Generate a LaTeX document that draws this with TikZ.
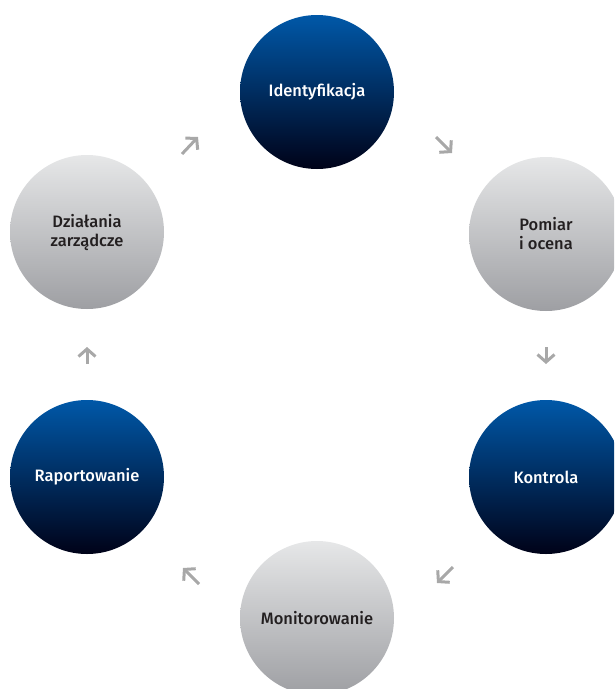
\documentclass[tikz,border=0pt]{standalone}
\usepackage{fontspec}
\setmainfont{Fira Sans}[BoldFont={Fira Sans Medium}]
\usepackage{tikz}
\usetikzlibrary{arrows.meta}

\definecolor{bluetop}{RGB}{0,88,168}
\definecolor{bluebot}{RGB}{0,2,24}
\definecolor{greytop}{RGB}{230,231,232}
\definecolor{greybot}{RGB}{158,159,163}
\definecolor{textgrey}{RGB}{35,31,32}
\definecolor{arrowgrey}{RGB}{168,168,168}

\tikzset{
	stage/.style={circle, minimum size=154pt, inner sep=0pt, align=center,
		font=\fontsize{16.5}{19}\selectfont\bfseries},
	bluestage/.style={stage, top color=bluetop, bottom color=bluebot, text=white},
	greystage/.style={stage, top color=greytop, bottom color=greybot, text=textgrey},
	flow/.style={draw=arrowgrey, line width=3pt,
		-{Straight Barb[length=7.5pt, width=17pt]}}
}

\begin{document}
\begin{tikzpicture}[x=1pt,y=-1pt]
			\useasboundingbox (0,0) rectangle (614,689);
			\clip (0,0) rectangle (614,689);
			\node[bluestage] (ident) at (317,92) {Identyfikacja};
			\node[greystage] (pomiar) at (546,234) {Pomiar\\i ocena};
			\node[bluestage] (kontrola) at (546,477) {Kontrola};
			\node[greystage] (monit) at (317,618) {Monitorowanie};
			\node[bluestage] (raport) at (87,477) {Raportowanie};
			\node[greystage] (dzialania) at (87,232) {Działania\\zarządcze};
			\draw[flow] (182,154) -- (198,137);
			\draw[flow] (436,137) -- (452,153);
			\draw[flow] (546,347) -- (546,364);
			\draw[flow] (453,567) -- (437,583);
			\draw[flow] (199,584) -- (183,568);
			\draw[flow] (87,364) -- (87,347);
		\end{tikzpicture}
\end{document}
